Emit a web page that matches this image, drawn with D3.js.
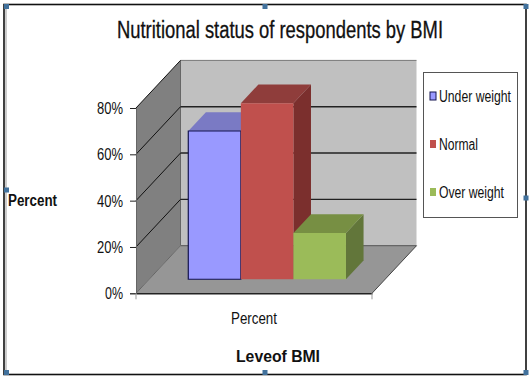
<!DOCTYPE html>
<html>
<head>
<meta charset="utf-8">
<script src="https://cdn.jsdelivr.net/npm/d3@7"></script>
<style>
body { margin: 0; background: #fff; }
text { font-family: "Liberation Sans", Arial, sans-serif; fill: #111; }
</style>
</head>
<body>
<div id="chart"></div>
<script>
const series = ["Under weight", "Normal", "Over weight"]
const values = [64, 76, 20]
const yTicks = [0, 20, 40, 60, 80]
const categories = ["Percent"]
const fills = ["#9999ff", "#c0504d", "#9bbb59"]
const tops = ["#7a7ac4", "#8f3d3b", "#778f43"]
const sides = ["#6a6aa8", "#7b2f2d", "#62763a"]

const width = 532
const height = 381

const svg = d3.select("#chart").append("svg")
    .attr("width", width)
    .attr("height", height)
    .style("display", "block")

// plot box, front lower left is 136,293
const originX = 136
const originY = 293.3
const plotW = 236
const plotH = 185.3
const depthX = 44.5
const depthY = 47.6

const y = d3.scaleLinear().domain([0, 80]).range([originY, originY - plotH])
const x = d3.scaleBand().domain(series).range([0, plotW]).paddingInner(0).paddingOuter(0.745)

// oblique projection: a = along the floor, v = percent, d = depth 0..1
function pt(a, v, d) {
    return [originX + a + depthX * d, y(v) - depthY * d]
}
function poly(points, fill, stroke, sw) {
    svg.append("polygon")
        .attr("points", points.map(p => p.join(",")).join(" "))
        .attr("fill", fill)
        .attr("stroke", stroke || "none")
        .attr("stroke-width", sw || 0)
}
function seg(a, b, stroke, sw) {
    svg.append("line")
        .attr("x1", a[0]).attr("y1", a[1])
        .attr("x2", b[0]).attr("y2", b[1])
        .attr("stroke", stroke)
        .attr("stroke-width", sw)
}
// the original font is a narrow one, so squeeze to the measured width
function squeeze(sel, w) {
    sel.attr("textLength", w).attr("lengthAdjust", "spacingAndGlyphs")
}

// walls and floor
poly([pt(0, 0, 0), pt(0, 80, 0), pt(0, 80, 1), pt(0, 0, 1)], "#808080")
poly([pt(0, 0, 1), pt(0, 80, 1), pt(plotW, 80, 1), pt(plotW, 0, 1)], "#c0c0c0")
poly([pt(0, 0, 0), pt(0, 0, 1), pt(plotW, 0, 1), pt(plotW, 0, 0)], "#969696")

seg(pt(0, 80, 1), pt(plotW, 80, 1), "#777", 1)
seg(pt(0, 80, 1), pt(0, 0, 1), "#666", 1)
seg(pt(0, 0, 1), pt(plotW, 0, 1), "#666", 1.2)
seg(pt(0, 0, 0), pt(0, 0, 1), "#666", 1)
seg(pt(plotW, 0, 0), pt(plotW, 0, 1), "#444", 1)

// gridlines, side wall then back wall
yTicks.slice(1).forEach(t => {
    seg(pt(0, t, 0), pt(0, t, 1), "#111", 1)
    if (t < 80) seg(pt(0, t, 1), pt(plotW, t, 1), "#222", 1.4)
})

// bars
const barD0 = 0.295
const barD1 = 0.69
series.forEach((s, i) => {
    const a0 = x(s)
    const a1 = a0 + x.bandwidth()
    const v = values[i]
    poly([pt(a1, 0, barD0), pt(a1, v, barD0), pt(a1, v, barD1), pt(a1, 0, barD1)], sides[i])
    poly([pt(a0, v, barD0), pt(a0, v, barD1), pt(a1, v, barD1), pt(a1, v, barD0)], tops[i])
    poly([pt(a0, 0, barD0), pt(a0, v, barD0), pt(a1, v, barD0), pt(a1, 0, barD0)], fills[i],
        i === 0 ? "#141450" : "none", i === 0 ? 1.2 : 0)
})

// axes
const yAxis = svg.append("g")
    .attr("transform", `translate(${originX},0)`)
    .call(d3.axisLeft(y).tickValues(yTicks).tickFormat(d => d + "%").tickSize(6))
yAxis.select(".domain").attr("stroke", "#666")
yAxis.selectAll(".tick line").attr("stroke", "#222")
yAxis.selectAll("text").style("font-size", "17px").attr("x", -13)
    .each(function (d) { squeeze(d3.select(this), d === 0 ? 18 : 26) })

const xAxis = svg.append("g")
    .attr("transform", `translate(${originX},${originY})`)
    .call(d3.axisBottom(d3.scaleBand().domain(categories).range([0, plotW])).tickSize(0))
xAxis.select(".domain").attr("stroke", "#222").attr("stroke-width", 1.4)
xAxis.selectAll("text").style("font-size", "17px").attr("y", 19)
    .call(squeeze, 46)
seg(pt(0, 0, 0), [originX, originY + 6], "#999", 1)
seg(pt(plotW, 0, 0), [originX + plotW, originY + 6], "#999", 1)

// titles
svg.append("text").attr("x", 280).attr("y", 38).attr("text-anchor", "middle")
    .style("font-size", "23px").style("stroke", "#111").style("stroke-width", 0.3)
    .text("Nutritional status of respondents by BMI")
    .call(squeeze, 326)
svg.append("text").attr("x", 8).attr("y", 206)
    .style("font-size", "16px").style("font-weight", "bold").text("Percent")
    .call(squeeze, 49)
svg.append("text").attr("x", 278).attr("y", 362).attr("text-anchor", "middle")
    .style("font-size", "16px").style("font-weight", "bold").text("Leveof BMI")
    .call(squeeze, 84)

// legend
svg.append("rect").attr("x", 423.5).attr("y", 72.5).attr("width", 94).attr("height", 145)
    .attr("fill", "#fff").attr("stroke", "#555")
const legendY = d3.scalePoint().domain(series).range([96, 192])
const legendW = [72, 39, 65]
series.forEach((s, i) => {
    svg.append("rect").attr("x", 430).attr("y", legendY(s) - 4).attr("width", 6).attr("height", 8)
        .attr("fill", fills[i]).attr("stroke", i === 0 ? "#141450" : "none")
    svg.append("text").attr("x", 439).attr("y", legendY(s) + 6)
        .style("font-size", "16px").text(s)
        .call(squeeze, legendW[i])
})

// selection frame and handles
svg.append("rect").attr("x", 4).attr("y", 4.5).attr("width", 522).attr("height", 370)
    .attr("fill", "none").attr("stroke", "#111").attr("stroke-width", 1.6)
svg.append("line").attr("x1", 6).attr("y1", 6).attr("x2", 6).attr("y2", 374)
    .attr("stroke", "#bbb").attr("stroke-width", 1.5)
const handles = [[6.5, 6.5], [265, 6.5], [526, 6.5], [6.5, 190], [526, 198], [6.5, 372.5], [265, 372.5], [526, 372.5]]
svg.selectAll(".handle").data(handles).enter().append("rect")
    .attr("class", "handle")
    .attr("x", d => d[0] - 2.5).attr("y", d => d[1] - 2.5)
    .attr("width", 5).attr("height", 5)
    .attr("fill", "#41719c")
</script>
</body>
</html>
